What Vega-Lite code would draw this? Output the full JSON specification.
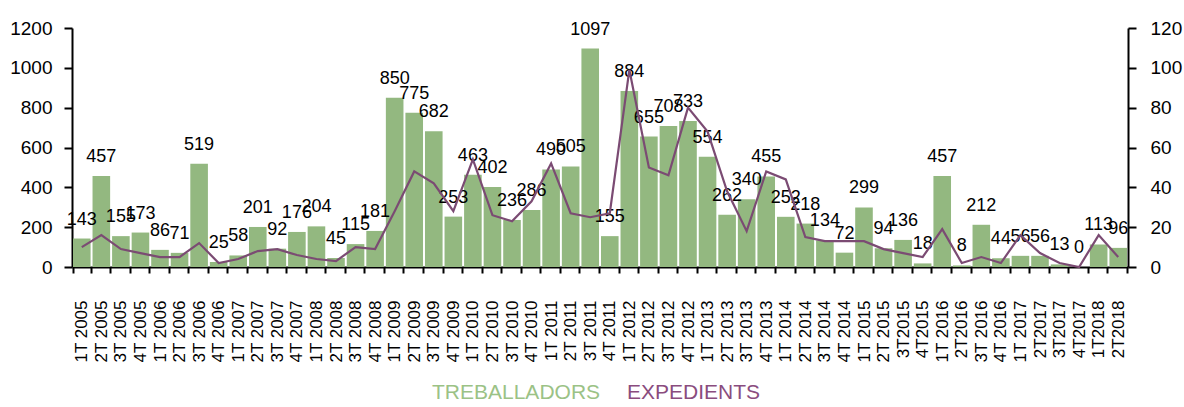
{
  "$schema": "https://vega.github.io/schema/vega-lite/v6.json",
  "autosize": {"type": "none"},
  "width": 1056,
  "height": 239,
  "padding": {"left": 72, "top": 28, "right": 56, "bottom": 140},
  "background": "white",
  "config": {"view": {"stroke": null}, "font": "Liberation Sans"},
  "data": {"values": [
    {"q": "1T 2005", "t": 143, "e": 10},
    {"q": "2T 2005", "t": 457, "e": 16},
    {"q": "3T 2005", "t": 155, "e": 9},
    {"q": "4T 2005", "t": 173, "e": 7},
    {"q": "1T 2006", "t": 86, "e": 5},
    {"q": "2T 2006", "t": 71, "e": 5},
    {"q": "3T 2006", "t": 519, "e": 12},
    {"q": "4T 2006", "t": 25, "e": 2},
    {"q": "1T 2007", "t": 58, "e": 4},
    {"q": "2T 2007", "t": 201, "e": 8},
    {"q": "3T 2007", "t": 92, "e": 9},
    {"q": "4T 2007", "t": 176, "e": 6},
    {"q": "1T 2008", "t": 204, "e": 4},
    {"q": "2T 2008", "t": 45, "e": 3},
    {"q": "3T 2008", "t": 115, "e": 10},
    {"q": "4T 2008", "t": 181, "e": 9},
    {"q": "1T 2009", "t": 850, "e": 28},
    {"q": "2T 2009", "t": 775, "e": 48},
    {"q": "3T 2009", "t": 682, "e": 42},
    {"q": "4T 2009", "t": 253, "e": 28},
    {"q": "1T 2010", "t": 463, "e": 54},
    {"q": "2T 2010", "t": 402, "e": 26},
    {"q": "3T 2010", "t": 236, "e": 23},
    {"q": "4T 2010", "t": 286, "e": 33},
    {"q": "1T 2011", "t": 490, "e": 52},
    {"q": "2T 2011", "t": 505, "e": 27},
    {"q": "3T 2011", "t": 1097, "e": 25},
    {"q": "4T 2011", "t": 155, "e": 27},
    {"q": "1T 2012", "t": 884, "e": 99},
    {"q": "2T 2012", "t": 655, "e": 50},
    {"q": "3T 2012", "t": 708, "e": 46},
    {"q": "4T 2012", "t": 733, "e": 80},
    {"q": "1T 2013", "t": 554, "e": 68},
    {"q": "2T 2013", "t": 262, "e": 38},
    {"q": "3T 2013", "t": 340, "e": 18},
    {"q": "4T 2013", "t": 455, "e": 48},
    {"q": "1T 2014", "t": 252, "e": 44},
    {"q": "2T 2014", "t": 218, "e": 15},
    {"q": "3T 2014", "t": 134, "e": 13},
    {"q": "4T 2014", "t": 72, "e": 13},
    {"q": "1T 2015", "t": 299, "e": 13},
    {"q": "2T 2015", "t": 94, "e": 9},
    {"q": "3T2015", "t": 136, "e": 7},
    {"q": "4T2015", "t": 18, "e": 5},
    {"q": "1T 2016", "t": 457, "e": 19},
    {"q": "2T2016", "t": 8, "e": 2},
    {"q": "3T 2016", "t": 212, "e": 5},
    {"q": "4T 2016", "t": 44, "e": 2},
    {"q": "1T 2017", "t": 56, "e": 16},
    {"q": "2T2017", "t": 56, "e": 7},
    {"q": "3T2017", "t": 13, "e": 2},
    {"q": "4T2017", "t": 0, "e": 0},
    {"q": "1T2018", "t": 113, "e": 16},
    {"q": "2T2018", "t": 96, "e": 5}
  ]},
  "encoding": {
    "x": {
      "field": "q", "type": "nominal", "sort": null,
      "scale": {"paddingInner": 0.1, "paddingOuter": 0.05},
      "axis": {
        "title": null, "labelAngle": -90, "labelFont": "Liberation Sans", "labelFontSize": 17,
        "labelColor": "black", "tickBand": "extent", "tickSize": 6, "tickWidth": 2,
        "tickColor": "black", "domainColor": "black", "domainWidth": 2, "labelPadding": 27
      }
    }
  },
  "layer": [
    {
      "encoding": {
        "y": {
          "field": "t", "type": "quantitative",
          "scale": {"domain": [0, 1200]},
          "axis": {
            "title": null, "values": [0, 200, 400, 600, 800, 1000, 1200], "format": "d", "grid": false,
            "labelFont": "Liberation Sans", "labelFontSize": 19, "labelColor": "black",
            "tickSize": 8, "tickWidth": 2, "tickColor": "black", "domainColor": "black",
            "domainWidth": 2, "labelPadding": 12
          }
        }
      },
      "layer": [
        {
          "mark": {"type": "bar"},
          "encoding": {
            "color": {
              "datum": "TREBALLADORS", "type": "nominal",
              "scale": {"domain": ["TREBALLADORS", "EXPEDIENTS"], "range": ["#93B880", "#7B4B73"]},
              "legend": {
                "orient": "none", "legendX": 339, "legendY": 354, "direction": "horizontal",
                "title": null, "symbolSize": 0, "symbolOpacity": 0, "symbolStrokeWidth": 0,
                "labelOffset": 0, "columnPadding": 5, "labelFontSize": 21, "labelLimit": 400,
                "labelFont": "Liberation Sans",
                "labelColor": {"expr": "datum.value === 'TREBALLADORS' ? '#9BC286' : '#8A4C7E'"}
              }
            }
          }
        },
        {
          "mark": {"type": "text", "baseline": "alphabetic", "dy": -14, "fontSize": 18, "font": "Liberation Sans", "color": "black"},
          "encoding": {"text": {"field": "t", "type": "quantitative", "format": "d"}}
        }
      ]
    },
    {
      "mark": {"type": "line", "strokeWidth": 2.2},
      "encoding": {
        "y": {
          "field": "e", "type": "quantitative",
          "scale": {"domain": [0, 120]},
          "axis": {
            "orient": "right", "title": null, "values": [0, 20, 40, 60, 80, 100, 120], "grid": false,
            "labelFont": "Liberation Sans", "labelFontSize": 19, "labelColor": "black",
            "tickSize": 8, "tickWidth": 2, "tickColor": "black", "domainColor": "black",
            "domainWidth": 2, "labelPadding": 14
          }
        },
        "color": {"datum": "EXPEDIENTS", "type": "nominal"}
      }
    }
  ],
  "resolve": {"scale": {"y": "independent"}}
}
